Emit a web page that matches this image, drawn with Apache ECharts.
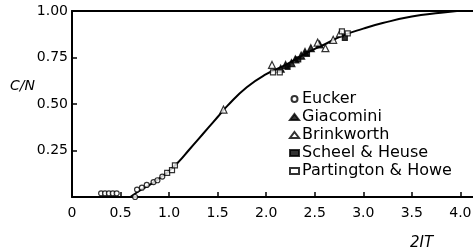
<!DOCTYPE html>
<html>
<head>
<meta charset="utf-8">
<script src="https://cdn.jsdelivr.net/npm/echarts@6/dist/echarts.min.js"></script>
<style>
  html, body { margin: 0; padding: 0; background: #fff; }
  #main { width: 473px; height: 252px; }
</style>
</head>
<body>
<div id="main"></div>
<script>
// measured values, x = 2IT, y = C/N
var eucker = [[0.30, 0.02], [0.34, 0.02], [0.38, 0.02], [0.42, 0.02], [0.46, 0.02],
  [0.65, 0.0], [0.67, 0.04], [0.72, 0.05], [0.77, 0.065], [0.84, 0.08], [0.88, 0.09], [0.93, 0.11]];
var giacomini = [[2.15, 0.69], [2.2, 0.71], [2.26, 0.72], [2.3, 0.74], [2.36, 0.76], [2.4, 0.78], [2.46, 0.8], [2.55, 0.82]];
var brinkworth = [[1.56, 0.47], [2.06, 0.71], [2.53, 0.83], [2.61, 0.80], [2.69, 0.845], [2.76, 0.88]];
var scheel = [[2.22, 0.70], [2.33, 0.74], [2.42, 0.77], [2.81, 0.855]];
var partington = [[0.98, 0.13], [1.03, 0.145], [1.06, 0.17], [2.07, 0.67], [2.14, 0.67], [2.78, 0.89], [2.84, 0.88]];
var curve = [[0.6, 0.0], [0.7, 0.035], [0.8, 0.065], [0.9, 0.10], [1.0, 0.14], [1.1, 0.19], [1.2, 0.25],
  [1.3, 0.31], [1.4, 0.37], [1.5, 0.43], [1.6, 0.49], [1.8, 0.59], [2.0, 0.66], [2.2, 0.71], [2.4, 0.77],
  [2.6, 0.82], [2.8, 0.87], [3.0, 0.905], [3.2, 0.935], [3.5, 0.97], [3.8, 0.99], [4.13, 1.01]];
var xTicks = ["0", "0.5", "1.0", "1.5", "2.0", "2.5", "3.0", "3.5", "4.0"];
var yTicks = ["", "0.25", "0.50", "0.75", "1.00"];

var font = "DejaVu Sans";
var myChart = echarts.init(document.getElementById("main"));

function pts(name, data, symbol, filled) {
  return {
    name: name,
    type: "scatter",
    data: data,
    symbol: symbol,
    symbolSize: symbol === "triangle" ? 7 : 5,
    itemStyle: {
      color: filled ? "#000" : "#fff",
      borderColor: "#000",
      borderWidth: 1.2
    },
    z: 3
  };
}

myChart.setOption({
  animation: false,
  // axis names placed as titles
  title: [
    { text: "C/N", left: 5, top: 74, textStyle: { fontFamily: font, fontStyle: "italic", fontWeight: "normal", fontSize: 14, color: "#000" } },
    { text: "2IT", left: 405, top: 231, textStyle: { fontFamily: font, fontStyle: "italic", fontWeight: "normal", fontSize: 15, color: "#000" } }
  ],
  grid: { left: 72, right: 0, top: 11, bottom: 55, outerBoundsMode: "none", containLabel: false },
  legend: {
    orient: "vertical",
    left: 284,
    top: 86,
    itemGap: 2,
    itemWidth: 9,
    itemHeight: 6,
    textStyle: { fontFamily: font, fontSize: 16, color: "#000", padding: [0, 0, 0, -2] },
    data: ["Eucker", "Giacomini", "Brinkworth", "Scheel & Heuse", "Partington & Howe"]
  },
  xAxis: [
    {
      type: "value",
      min: 0,
      max: 4.13,
      interval: 0.5,
      splitLine: { show: false },
      axisLine: { lineStyle: { color: "#000", width: 2 } },
      axisTick: { inside: true, length: 5, lineStyle: { color: "#000", width: 1.5 } },
      axisLabel: {
        color: "#000", fontFamily: font, fontSize: 14, margin: 9,
        showMaxLabel: false,
        formatter: function (v) { return xTicks[Math.round(v / 0.5)] || ""; }
      }
    },
    {
      type: "value",
      position: "top",
      min: 0,
      max: 4.13,
      axisLine: { show: true, lineStyle: { color: "#000", width: 2 } },
      axisTick: { show: false },
      axisLabel: { show: false },
      splitLine: { show: false }
    }
  ],
  yAxis: {
    type: "value",
    min: 0,
    max: 1,
    interval: 0.25,
    splitLine: { show: false },
    axisLine: { show: true, lineStyle: { color: "#000", width: 2 } },
    axisTick: { show: true, inside: true, length: 5, lineStyle: { color: "#000", width: 1.5 } },
    axisLabel: {
      color: "#000", fontFamily: font, fontSize: 14, margin: 4,
      formatter: function (v) { return yTicks[Math.round(v / 0.25)]; }
    }
  },
  series: [
    {
      type: "line",
      data: curve,
      smooth: true,
      showSymbol: false,
      lineStyle: { color: "#000", width: 2 },
      z: 2
    },
    pts("Eucker", eucker, "circle", false),
    pts("Giacomini", giacomini, "triangle", true),
    pts("Brinkworth", brinkworth, "triangle", false),
    pts("Scheel & Heuse", scheel, "rect", true),
    pts("Partington & Howe", partington, "rect", false)
  ]
});
</script>
</body>
</html>
